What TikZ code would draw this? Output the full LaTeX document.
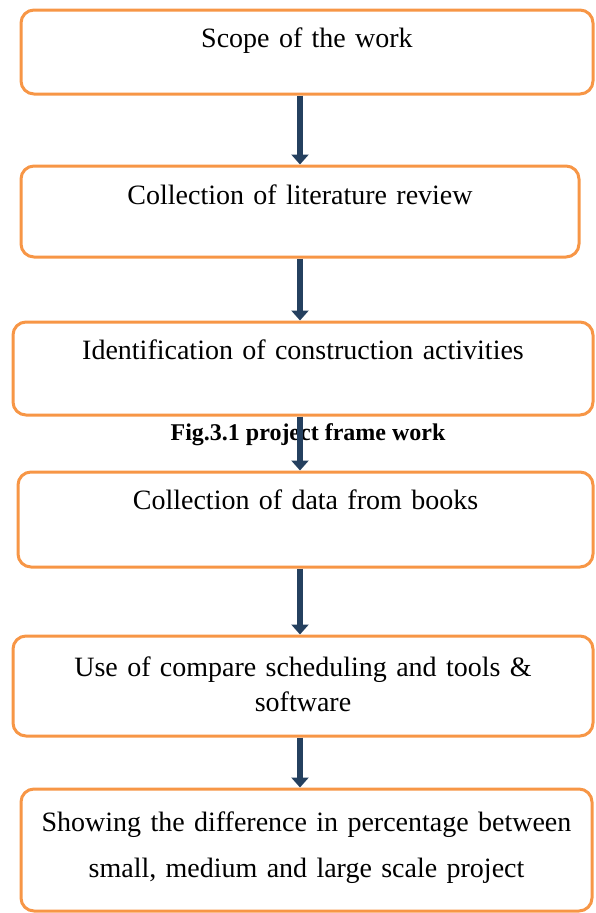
\documentclass[tikz,border=0pt]{standalone}
\usepackage{fontspec}
\setmainfont{Liberation Serif}
\usepackage{tikz}
\usetikzlibrary{arrows.meta}

\definecolor{boxorange}{HTML}{F79646}
\definecolor{arrowblue}{HTML}{24405F}

\begin{document}
\begin{tikzpicture} [x=1pt, y=-1pt, align=center,
  stage/.style={draw=boxorange, line width=3pt, fill=white, rounded corners=13pt,
    inner xsep=0pt, inner ysep=0pt, anchor=base, font=\fontsize{28}{35}\selectfont},
  flow/.style={draw=arrowblue, line width=6.5pt, -{Triangle[width=17pt, length=10pt]}}]
\useasboundingbox (0, 0) rectangle (596, 913);

\path (307, 47) node[stage, text width=572pt, text height=37pt, text depth=47pt] (scope) {Scope of the work}
      (300, 204) node[stage, text width=558pt, text height=38pt, text depth=53pt] (review) {Collection of literature review}
      (303, 359) node[stage, text width=580pt, text height=37pt, text depth=56pt] (activities) {Identification of construction activities}
      (305.5, 509) node[stage, text width=575pt, text height=37pt, text depth=58pt] (books) {Collection of data from books}
      (303, 676) node[stage, text width=580pt, text height=40pt, text depth=60pt] (tools) {Use of compare scheduling and tools \&\\ software}
      (306.5, 831) node[stage, text width=571pt, text height=42pt, text depth=80pt] (difference) {Showing the difference in percentage between\\[11pt] small, medium and large scale project};

\path (308, 440) node[anchor=base, font=\bfseries\fontsize{24}{28}\selectfont] (caption) {Fig.3.1 project frame work};

\coordinate (axis) at (300, 0);

\draw[flow] (scope.south -| axis) -- (review.north -| axis);
\draw[flow] (review.south -| axis) -- (activities.north -| axis);
\draw[flow] (activities.south -| axis) -- (books.north -| axis);
\draw[flow] (books.south -| axis) -- (tools.north -| axis);
\draw[flow] (tools.south -| axis) -- (difference.north -| axis);
\end{tikzpicture}
\end{document}
